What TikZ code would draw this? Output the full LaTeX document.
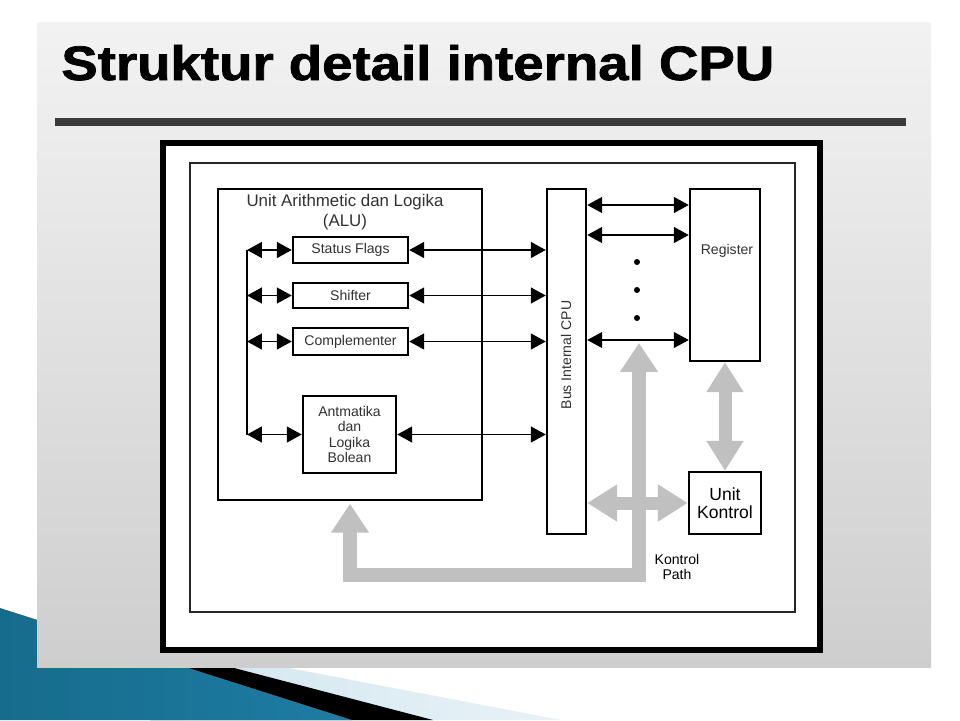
\documentclass[tikz,border=0pt]{standalone}
\usepackage{fontspec}
\usepackage{graphicx}
\setmainfont{Liberation Sans}
\newfontfamily\titlefont[BoldFeatures={FakeBold=1.5}]{Liberation Sans}
\usetikzlibrary{arrows.meta}
\definecolor{panelTop}{RGB}{242,242,242}
\definecolor{panelBot}{RGB}{206,206,206}
\definecolor{ruleGray}{RGB}{58,58,58}
\definecolor{arrowGray}{RGB}{192,192,192}
\definecolor{blueDark}{RGB}{22,108,140}
\definecolor{blueMid}{RGB}{84,180,216}
\definecolor{blueRight}{RGB}{30,124,164}
\definecolor{lightBlue}{RGB}{212,231,240}
\definecolor{lightBlueEnd}{RGB}{232,242,247}
\definecolor{labelGray}{RGB}{50,50,50}
\def\px{0.02cm}
\tikzset{
  box/.style={draw=black, line width=1.4pt, fill=white, inner sep=0pt,
    font=\fontsize{8}{8.7}\selectfont, text=labelGray, align=center},
  lbl/.style={inner sep=0pt, font=\fontsize{8}{9}\selectfont, text=labelGray},
  dbl/.style={line width=1.1pt,
    {Triangle[length=8.5pt,width=9pt]}-{Triangle[length=8.5pt,width=9pt]}},
  gsingle/.style={draw=arrowGray, line width=8pt, line join=miter,
    {Triangle[length=16.4pt,width=20.4pt]}-{Triangle[length=16.4pt,width=20.4pt]}},
  gdouble/.style={draw=arrowGray, line width=7.4pt,
    {Triangle[length=17pt,width=20pt]}-{Triangle[length=17pt,width=20pt]}}
}
\begin{document}
\begin{tikzpicture}[x=0.02cm,y=-0.02cm]
\useasboundingbox (0,0) rectangle (960,720);
\fill[white] (0,0) rectangle (960,720);
% bottom-left decoration
\shade[left color=lightBlue, right color=lightBlueEnd] (200,651) -- (561,720) -- (200,720) -- cycle;
\fill[black] (150,646) -- (433,720) -- (150,720) -- cycle;
\shade[left color=blueDark, middle color=blueMid, right color=blueRight]
  (0,608) -- (352,720) -- (0,720) -- cycle;
% panel
\shade[top color=panelTop, bottom color=panelBot] (37,22) rectangle (931,667);
% title and rule
\node[anchor=base west, inner sep=0pt,
  font=\titlefont\bfseries\fontsize{27.5}{27.5}\selectfont] (title) at (61,80)
  {\scalebox{1.13}[1]{Struktur detail internal CPU}};
\coordinate (ruleL) at (55,122);
\coordinate (ruleR) at (906,122);
\draw[ruleGray, line width=5pt] (ruleL) -- (ruleR);
% frames
\node[draw=black, line width=3.4pt, fill=white, inner sep=0pt,
  minimum width=657*\px, minimum height=507*\px] (outer) at (491.5,396.5) {};
\node[draw=black!85, line width=1.1pt, inner sep=0pt,
  minimum width=605*\px, minimum height=449*\px] (inner) at (492.5,387.5) {};
% ALU
\node[draw=black, line width=1.2pt, inner sep=0pt,
  minimum width=264*\px, minimum height=311*\px] (alu) at (350,344.5) {};
\node[inner sep=0pt, font=\fontsize{9.6}{11.3}\selectfont, align=center, text=labelGray]
  (alut) at (345,212) {Unit Arithmetic dan Logika\\(ALU)};
\node[box, minimum width=115*\px, minimum height=26*\px] (status) at (350.5,250) {Status Flags};
\node[box, minimum width=115*\px, minimum height=25*\px] (shift) at (350.5,295.5) {Shifter};
\node[box, minimum width=115*\px, minimum height=27*\px] (compl) at (350.5,341.5) {Complementer};
\node[box, minimum width=93*\px, minimum height=77*\px] (arit) at (349.5,434.5)
  {Antmatika\\dan\\Logika\\Bolean};
% bus, register, control unit
\node[box, minimum width=39*\px, minimum height=345*\px] (bus) at (566.5,361.5) {};
\node[lbl, rotate=90] (bust) at (566,355) {Bus Internal CPU};
\node[box, minimum width=70*\px, minimum height=172*\px] (reg) at (725,275) {};
\node[lbl] (regt) at (727,251) {Register};
\node[box, text=black, font=\fontsize{10}{10.3}\selectfont,
  minimum width=72*\px, minimum height=62*\px] (kontrol) at (725,503) {Unit\\Kontrol};
% ALU internal connections
\coordinate (vtop) at (247,250);
\coordinate (vbot) at (247,434.5);
\draw[line width=1.1pt] (vtop) -- (vbot);
\draw[dbl] (vtop |- status.west) -- (status.west);
\draw[dbl] (vtop |- shift.west) -- (shift.west);
\draw[dbl] (vtop |- compl.west) -- (compl.west);
\draw[dbl] (vbot) -- (arit.west);
\draw[dbl] (status.east) -- (status.east -| bus.west);
\draw[dbl] (shift.east) -- (shift.east -| bus.west);
\draw[dbl] (compl.east) -- (compl.east -| bus.west);
\draw[dbl] (arit.east) -- (arit.east -| bus.west);
% bus to register
\coordinate (r1) at (0,205);
\coordinate (r2) at (0,235);
\coordinate (r3) at (0,340);
\draw[dbl] (bus.east |- r1) -- (reg.west |- r1);
\draw[dbl] (bus.east |- r2) -- (reg.west |- r2);
\draw[dbl, line width=0.8pt] (bus.east |- r3) -- (reg.west |- r3);
\fill (637,262) circle[radius=3];
\fill (637,290) circle[radius=3];
\fill (637,318) circle[radius=3];
% control paths (gray)
\coordinate (kpl) at (350,575);
\coordinate (kpr) at (639,575);
\coordinate (ktip) at (639,343);
\draw[gsingle] ([yshift=-1.5pt]alu.south) -- (kpl) -- (kpr) -- (ktip);
\draw[gdouble] (bus.east |- kontrol.west) -- (kontrol.west);
\draw[gdouble] (reg.south) -- (kontrol.north);
\node[inner sep=0pt, align=center, font=\fontsize{8}{9}\selectfont] (kpt) at (677,567) {Kontrol\\Path};
\end{tikzpicture}
\end{document}
